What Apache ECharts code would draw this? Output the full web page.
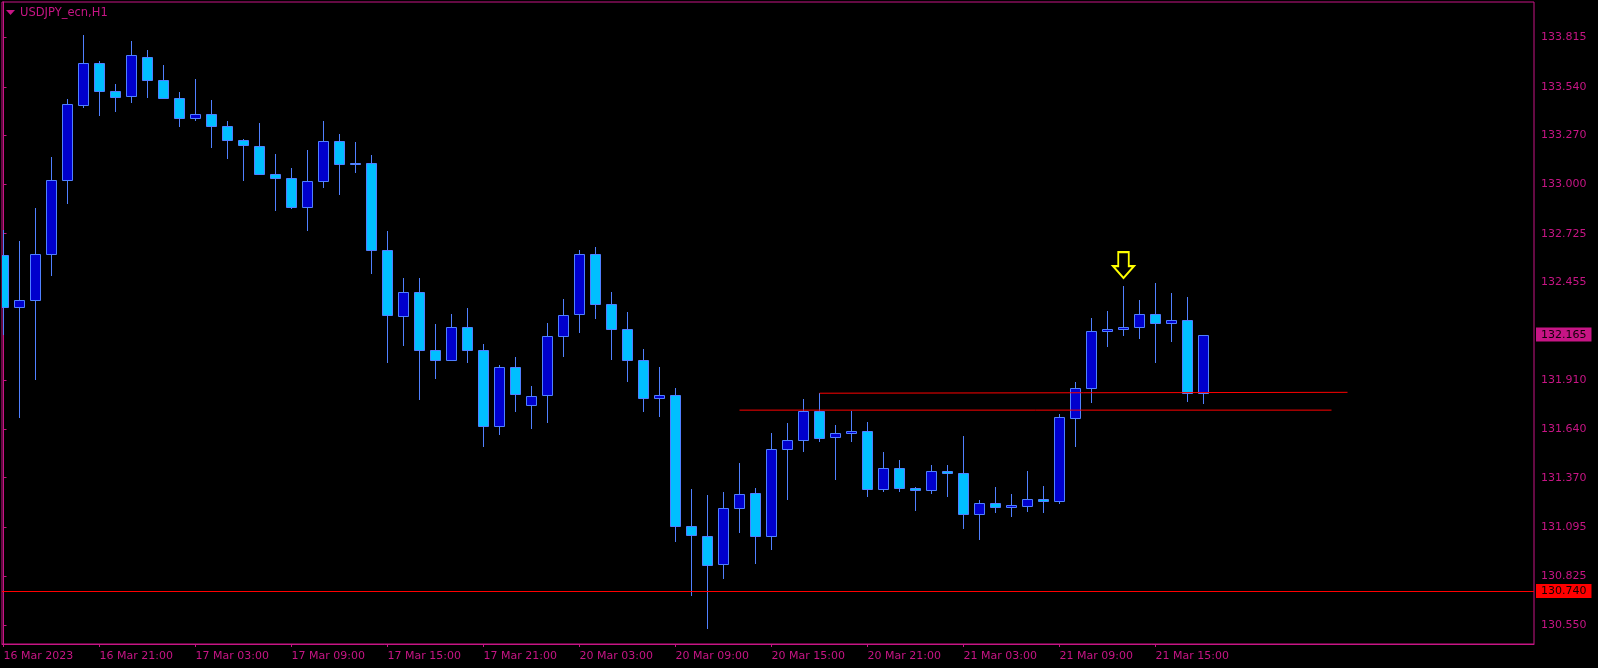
<!DOCTYPE html>
<html>
<head>
<meta charset="utf-8">
<script src="https://cdn.jsdelivr.net/npm/echarts@6/dist/echarts.min.js"></script>
<style>
html,body{margin:0;padding:0;background:#000;}
#chart{width:1598px;height:668px;}
</style>
</head>
<body>
<div id="chart"></div>
<script>
// ---- data (USDJPY_ecn, H1) ----
const opens  = [132.606,132.317,132.356,132.611,133.023,133.442,133.673,133.517,133.489,133.706,
                133.578,133.478,133.367,133.389,133.323,133.245,133.212,133.056,133.034,132.873,
                133.017,133.239,133.116,133.117,132.634,132.270,132.400,132.078,132.023,132.206,
                132.078,131.656,131.984,131.772,131.828,132.156,132.278,132.611,132.334,132.195,
                132.023,131.811,131.828,131.100,131.045,130.889,131.200,131.283,131.045,131.528,
                131.578,131.739,131.595,131.617,131.628,131.306,131.422,131.311,131.300,131.406,
                131.395,131.167,131.228,131.206,131.211,131.250,131.239,131.700,131.867,132.184,
                132.195,132.206,132.278,132.228,132.245,131.839];
const closes = [132.317,132.356,132.611,133.023,133.445,133.673,133.517,133.484,133.717,133.578,
                133.478,133.367,133.389,133.323,133.245,133.217,133.056,133.034,132.873,133.017,
                133.239,133.112,133.112,132.634,132.271,132.400,132.078,132.023,132.206,132.078,
                131.656,131.984,131.834,131.822,132.156,132.273,132.611,132.334,132.195,132.023,
                131.811,131.828,131.100,131.050,130.883,131.200,131.278,131.045,131.528,131.578,
                131.739,131.589,131.617,131.628,131.306,131.422,131.311,131.300,131.406,131.395,
                131.167,131.228,131.206,131.217,131.250,131.239,131.706,131.867,132.184,132.195,
                132.206,132.278,132.228,132.245,131.839,132.165];
const lows   = [132.167,131.709,131.920,132.493,132.898,133.426,133.382,133.404,133.459,133.487,
                133.478,133.326,133.359,133.204,133.143,133.026,133.056,132.859,132.865,132.743,
                132.982,132.948,133.070,132.506,132.015,132.108,131.809,131.926,132.023,132.015,
                131.548,131.615,131.742,131.648,131.681,132.043,132.181,132.259,132.031,131.909,
                131.742,131.715,131.020,130.720,130.533,130.811,131.067,130.895,130.972,131.250,
                131.517,131.572,131.361,131.572,131.267,131.295,131.295,131.189,131.283,131.267,
                131.089,131.028,131.178,131.156,131.183,131.178,131.228,131.545,131.789,132.100,
                132.161,132.145,132.011,132.128,131.795,131.787];
const highs  = [132.747,132.685,132.867,133.152,133.474,133.830,133.686,133.558,133.797,133.747,
                133.663,133.512,133.586,133.467,133.352,133.250,133.339,133.169,133.091,133.191,
                133.352,133.280,133.236,133.163,132.741,132.478,132.478,132.224,132.280,132.313,
                132.113,131.996,132.041,131.880,132.230,132.363,132.635,132.652,132.402,132.291,
                132.085,131.985,131.867,131.306,131.272,131.289,131.450,131.311,131.617,131.672,
                131.806,131.839,131.661,131.739,131.678,131.511,131.467,131.317,131.439,131.439,
                131.600,131.245,131.317,131.278,131.406,131.322,131.722,131.900,132.256,132.295,
                132.434,132.356,132.450,132.395,132.373,132.165];

const timeTickBars   = [0,6,12,18,24,30,36,42,48,54,60,66,72];
const timeTickLabels = ['16 Mar 2023','16 Mar 21:00','17 Mar 03:00','17 Mar 09:00','17 Mar 15:00',
                        '17 Mar 21:00','20 Mar 03:00','20 Mar 09:00','20 Mar 15:00','20 Mar 21:00',
                        '21 Mar 03:00','21 Mar 09:00','21 Mar 15:00'];
const priceTicks = [133.815,133.540,133.270,133.000,132.725,132.455,131.910,131.640,131.370,131.095,130.825,130.550];

const currentPrice = 132.165;
const supportLevel = 130.740;
const lineABars = [46, 83];
const lineAPrices = [131.745, 131.745];
const lineBBars = [51, 84];
const lineBPrices = [131.839, 131.844];
const arrowBar = 70;
const arrowPrice = 132.551;

// ---- styling ----
const MAG = '#C71585';
const UP = '#0000CD';
const DOWN = '#00BFFF';
const WICK = '#5080FF';
const RED = '#FF0000';
const FONT = 'DejaVu Sans';

const candleData = opens.map((o, i) => [i, o, closes[i], lows[i], highs[i]]);

function renderCandle(params, api) {
  const i = api.value(0), o = api.value(1), c = api.value(2), l = api.value(3), h = api.value(4);
  const ph = api.coord([i, h]), pl = api.coord([i, l]), po = api.coord([i, o]), pc = api.coord([i, c]);
  const cx = Math.floor(ph[0] + 0.01) + 0.5;
  const yTop = Math.round(Math.min(po[1], pc[1])) + 0.5;
  let yBot = Math.round(Math.max(po[1], pc[1])) + 0.5;
  if (yBot - yTop < 1) yBot = yTop + 1;
  const up = c > o;
  return {
    type: 'group',
    children: [
      { type: 'line', shape: { x1: cx, y1: Math.round(ph[1]), x2: cx, y2: Math.round(pl[1]) + 1 },
        style: { stroke: WICK, lineWidth: 1 } },
      { type: 'rect', shape: { x: cx - 5, y: yTop, width: 10, height: yBot - yTop },
        style: { fill: up ? UP : DOWN, stroke: WICK, lineWidth: 1 } }
    ]
  };
}

const chart = echarts.init(document.getElementById('chart'), null, { renderer: 'canvas' });
chart.setOption({
  animation: false,
  backgroundColor: '#000000',
  title: {
    text: 'USDJPY_ecn,H1', left: 20, top: 7, padding: 0,
    textStyle: { color: MAG, fontSize: 11.5, fontFamily: FONT, fontWeight: 'normal' }
  },
  graphic: [
    { type: 'polygon', shape: { points: [[6, 10], [15, 10], [10.5, 15]] }, style: { fill: MAG } }
  ],
  grid: {
    left: 2, top: 2, right: 64, bottom: 24,
    show: true, borderColor: MAG, borderWidth: 1, backgroundColor: '#000'
  },
  xAxis: {
    type: 'value',
    min: -0.09375, max: 95.65625,
    splitLine: { show: false },
    axisLine: { show: true, lineStyle: { color: MAG } },
    axisTick: { show: true, length: 3, lineStyle: { color: MAG }, customValues: timeTickBars },
    axisLabel: {
      customValues: timeTickBars,
      color: MAG, fontSize: 11, fontFamily: FONT, align: 'left', margin: 7,
      formatter: v => timeTickLabels[timeTickBars.indexOf(Math.round(v))] || ''
    }
  },
  yAxis: [
    {
      type: 'value', position: 'right', min: 130.446, max: 134.012, scale: true,
      splitLine: { show: false },
      axisLine: { show: true, lineStyle: { color: MAG } },
      axisTick: { show: true, length: 3, lineStyle: { color: MAG }, customValues: priceTicks },
      axisLabel: {
        customValues: priceTicks, color: MAG, fontSize: 11, fontFamily: FONT, margin: 7,
        padding: [3, 0, 0, 0],
        formatter: v => v.toFixed(3)
      }
    },
    {
      type: 'value', position: 'right', min: 130.446, max: 134.012, scale: true,
      splitLine: { show: false },
      axisLine: { show: false }, axisTick: { show: false },
      axisLabel: {
        customValues: [currentPrice, supportLevel], margin: 2,
        formatter: v => (Math.abs(v - currentPrice) < 1e-6 ? '{cur|' : '{sup|') + v.toFixed(3) + '}',
        rich: {
          cur: { backgroundColor: MAG, color: '#100008', fontSize: 11, fontFamily: FONT, padding: [2, 5, 1, 5] },
          sup: { backgroundColor: RED, color: '#100000', fontSize: 11, fontFamily: FONT, padding: [2, 5, 1, 5] }
        }
      }
    }
  ],
  series: [
    {
      type: 'line', data: [], silent: true,
      markLine: {
        silent: true, symbol: ['none', 'none'], label: { show: false },
        lineStyle: { color: RED, width: 1, type: 'solid' },
        data: [{ yAxis: supportLevel }]
      }
    },
    {
      type: 'line', silent: true, symbol: 'none',
      data: lineABars.map((b, k) => [b, lineAPrices[k]]),
      lineStyle: { color: RED, width: 1 }
    },
    {
      type: 'line', silent: true, symbol: 'none',
      data: lineBBars.map((b, k) => [b, lineBPrices[k]]),
      lineStyle: { color: RED, width: 1 }
    },
    {
      type: 'custom', renderItem: renderCandle, data: candleData, clip: true,
      encode: { x: 0, y: [1, 2, 3, 4] }
    },
    {
      type: 'scatter', silent: true,
      data: [[arrowBar, arrowPrice]],
      symbol: 'path://M5.5,0 L16.5,0 L16.5,14 L22,14 L11,26 L0,14 L5.5,14 Z',
      symbolSize: [21, 26],
      itemStyle: { color: 'rgba(0,0,0,0)', borderColor: '#FFFF00', borderWidth: 2, opacity: 1 }
    }
  ]
});
</script>
</body>
</html>
